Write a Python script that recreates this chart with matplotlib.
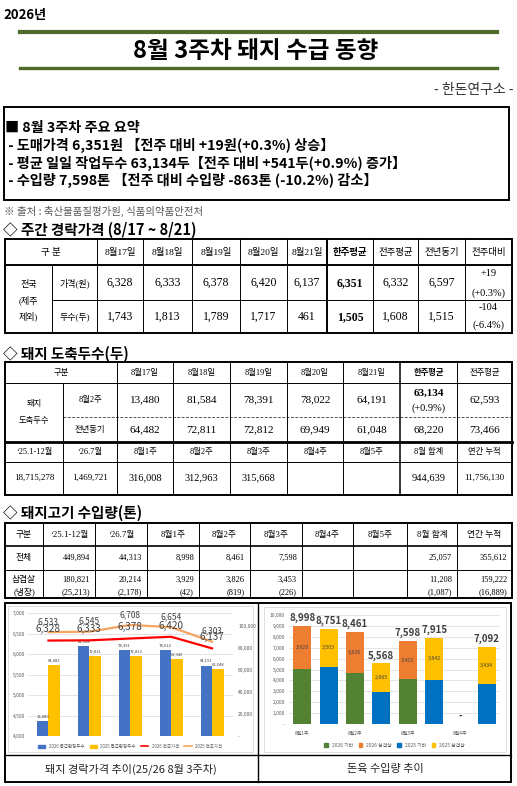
import matplotlib.pyplot as plt
from matplotlib.patches import Rectangle, Patch
from matplotlib.lines import Line2D

plt.rcParams['font.family'] = ['Noto Sans CJK KR', 'DejaVu Sans']
SERIF = ['Liberation Serif', 'Noto Sans CJK KR']
SANS = ['Noto Sans CJK KR', 'DejaVu Sans']

W, H = 517, 786

# ---- header / summary text
year_label = '2026년'
title = '8월 3주차 돼지 수급 동향'
org = '- 한돈연구소 -'
summary = ['■ 8월 3주차 주요 요약',
           ' - 도매가격 6,351원 【전주 대비 +19원(+0.3%) 상승】',
           ' - 평균 일일 작업두수 63,134두【전주 대비 +541두(+0.9%) 증가】',
           ' - 수입량 7,598톤 【전주 대비 수입량 -863톤 (-10.2%) 감소】']
source = '※ 출처 : 축산물품질평가원, 식품의약품안전처'

# ---- table 1: weekly auction price
t1_title = '◇ 주간 경락가격 (8/17 ~ 8/21)'
t1_cols = ['8월17일', '8월18일', '8월19일', '8월20일', '8월21일',
           '한주평균', '전주평균', '전년동기', '전주대비']
t1_price = ['6,328', '6,333', '6,378', '6,420', '6,137', '6,351', '6,332', '6,597']
t1_price_chg = ['+19', '(+0.3%)']
t1_head = ['1,743', '1,813', '1,789', '1,717', '461', '1,505', '1,608', '1,515']
t1_head_chg = ['-104', '(-6.4%)']

# ---- table 2: slaughter heads
t2_title = '◇ 돼지 도축두수(두)'
t2_cols = ['8월17일', '8월18일', '8월19일', '8월20일', '8월21일', '한주평균', '전주평균']
t2_this = ['13,480', '81,584', '78,391', '78,022', '64,191', '63,134', '62,593']
t2_this_chg = '(+0.9%)'
t2_ly = ['64,482', '72,811', '72,812', '69,949', '61,048', '68,220', '73,466']
t2_sum_cols = ['‘25.1-12월', '‘26.7월', '8월1주', '8월2주', '8월3주', '8월4주', '8월5주',
               '8월 합계', '연간 누적']
t2_sum = ['18,715,278', '1,469,721', '316,008', '312,963', '315,668', '', '',
          '944,639', '11,756,130']

# ---- table 3: pork imports
t3_title = '◇ 돼지고기 수입량(톤)'
t3_total = ['449,894', '44,313', '8,998', '8,461', '7,598', '', '', '25,057', '355,612']
t3_belly = ['180,821', '20,214', '3,929', '3,826', '3,453', '', '', '11,208', '159,222']
t3_chilled = ['(25,213)', '(2,178)', '(42)', '(819)', '(226)', '', '', '(1,087)', '(16,889)']

# ---- chart 1: price vs heads
heads_2026 = [13480, 81584, 78391, 78022, 64191]
heads_2025 = [64482, 72811, 72812, 69949, 61048]
price_2026 = [6328, 6333, 6378, 6420, 6137]
price_2025 = [6533, 6545, 6708, 6654, 6303]

# ---- chart 2: imports by week
imp_weeks = ['8월1주', '', '8월2주', '', '8월3주', '', '8월4주', '']
imp_total = [8998, 8751, 8461, 5568, 7598, 7915, 0, 7092]
imp_belly = [3929, 3503, 3826, 2665, 3453, 3842, 0, 3434]
imp_other = [5069, 5248, 4635, 2903, 4145, 4073, 0, 3658]

fig = plt.figure(figsize=(W / 100, H / 100), dpi=100)
ax = fig.add_axes([0, 0, 1, 1])
ax.set_xlim(0, W)
ax.set_ylim(H, 0)
ax.axis('off')


def line(x0, y0, x1, y1, lw=0.7, color='black', ls='-'):
    ax.plot([x0, x1], [y0, y1], color=color, lw=lw, ls=ls, solid_capstyle='projecting')


def put(x, y, s, size, ha='center', bold=False, family=SERIF, color='black'):
    ax.text(x, y, s, fontsize=size, ha=ha, va='center', family=family,
            fontweight='bold' if bold else 'normal', color=color)


# header
put(3, 15, year_label, 9.5, ha='left', bold=True, family=SANS)
green = '#4F6B2C'
line(20, 32, 497, 32, lw=3, color=green)
line(20, 68, 497, 68, lw=2.4, color=green)
put(256, 51, title, 17, bold=True, family=SANS)
put(514, 90, org, 10, ha='right', family=SANS, color='#333333')

ax.add_patch(Rectangle((4, 107), 505, 93, fill=False, lw=1.4, ec='black'))
for i, s in enumerate(summary):
    put(5, 128 + i * 17.5, s, 10.2, ha='left', bold=True, family=SANS)
put(4, 211, source, 7.5, ha='left', family=SANS, color='#555555')

# table 1
put(3, 230, t1_title, 10.5, ha='left', bold=True, family=SANS)
t1_x = [5, 52, 97, 143, 192, 240, 287, 327, 373, 418, 465, 512]
line(5, 239, 512, 239, lw=1.4)
line(5, 265, 512, 265, lw=1.4)
line(52, 300, 512, 300, lw=0.7)
line(5, 333, 512, 333, lw=1.4)
for x in t1_x:
    y0 = 265 if x == 52 else 239
    line(x, y0, x, 333, lw=1.4 if x in (5, 327, 512) else 0.7)
put(51, 252, '구 분', 6.8)
for i, c in enumerate(t1_cols):
    xc = (t1_x[i + 2] + t1_x[i + 3]) / 2
    put(xc, 252, c, 6.8, bold=(c == '한주평균'))
put(28.5, 285, '전국', 6.5)
put(28.5, 300, '(제주', 6.5)
put(28.5, 316, '제외)', 6.5)
put(74.5, 283, '가격(원)', 6.5)
put(74.5, 317, '두수(두)', 6.5)
for i, (p, h) in enumerate(zip(t1_price, t1_head)):
    xc = (t1_x[i + 2] + t1_x[i + 3]) / 2
    put(xc, 283, p, 8.5, bold=(i == 5))
    put(xc, 317, h, 8.5, bold=(i == 5))
xc = (t1_x[10] + t1_x[11]) / 2
put(xc, 273, t1_price_chg[0], 7.5)
put(xc, 293, t1_price_chg[1], 7.5)
put(xc, 307, t1_head_chg[0], 7.5)
put(xc, 325, t1_head_chg[1], 7.5)

# table 2
put(3, 354, t2_title, 10.5, ha='left', bold=True, family=SANS)
t2_x = [5, 63, 117, 173, 230, 287, 343, 400, 457, 512]
line(5, 362, 512, 362, lw=1.4)
line(5, 383, 512, 383, lw=0.7)
line(63, 417, 512, 417, lw=0.7, ls=(0, (3, 1.5)), color='#555555')
line(5, 442, 512, 442, lw=2.0)
line(5, 462, 512, 462, lw=0.7)
line(5, 495, 512, 495, lw=1.4)
for x in t2_x:
    y0 = 383 if x == 63 else 362
    line(x, y0, x, 495, lw=1.4 if x in (5, 512) else (1.1 if x == 400 else 0.7))
put(61, 373, '구분', 6)
for i, c in enumerate(t2_cols):
    xc = (t2_x[i + 2] + t2_x[i + 3]) / 2
    put(xc, 373, c, 6, bold=(c == '한주평균'))
put(34, 404, '돼지', 6)
put(34, 421, '도축두수', 6)
put(90, 400, '8월2주', 6)
put(90, 430, '전년동기', 6)
for i, (a, b) in enumerate(zip(t2_this, t2_ly)):
    xc = (t2_x[i + 2] + t2_x[i + 3]) / 2
    if i == 5:
        put(xc, 393, a, 8, bold=True)
        put(xc, 408, t2_this_chg, 7.5)
    else:
        put(xc, 400, a, 8)
    put(xc, 430, b, 8)
for i, (c, v) in enumerate(zip(t2_sum_cols, t2_sum)):
    xc = (t2_x[i] + t2_x[i + 1]) / 2
    put(xc, 452, c, 6)
    put(xc, 478, v, 6.5 if i < 2 or i == 8 else 7.5)

# table 3
put(3, 513, t3_title, 10.5, ha='left', bold=True, family=SANS)
t3_x = [5, 43, 95, 147, 199, 250, 302, 353, 407, 457, 512]
line(5, 523, 512, 523, lw=1.4)
line(5, 546, 512, 546, lw=1.2)
line(5, 570, 512, 570, lw=0.7)
line(5, 598, 512, 598, lw=1.4)
for x in t3_x:
    line(x, 523, x, 598, lw=1.4 if x in (5, 512) else 0.7)
put(24, 534.5, '구분', 6.3)
for i, c in enumerate(t2_sum_cols):
    xc = (t3_x[i + 1] + t3_x[i + 2]) / 2
    put(xc, 534.5, c, 6.3)
put(24, 558, '전체', 6.3)
put(24, 580, '삼겹살', 6.3)
put(24, 592, '(냉장)', 6.3)
for i, (a, b, c) in enumerate(zip(t3_total, t3_belly, t3_chilled)):
    xr = t3_x[i + 2] - 5
    put(xr, 558, a, 6, ha='right')
    put(xr, 580, b, 6, ha='right')
    put(xr, 592, c, 6, ha='right')

# chart frame
ax.add_patch(Rectangle((5, 603), 506, 179, fill=False, lw=1.4, ec='black'))
line(258, 603, 258, 782, lw=1.0)
line(5, 755, 511, 755, lw=1.0)
ax.add_patch(Rectangle((8, 606), 245, 146, fill=False, lw=0.6, ec='#D9D9D9'))
ax.add_patch(Rectangle((264, 607), 242, 145, fill=False, lw=0.6, ec='#D9D9D9'))
put(131, 769, '돼지 경락가격 추이(25/26 8월 3주차)', 8, family=SANS, color='#222222')
put(385, 769, '돈육 수입량 추이', 8, family=SANS, color='#222222')

tick_kw = dict(labelsize=3.5, labelcolor='#595959', length=0)

# chart 1
rect1 = [28 / W, 1 - 736 / H, 204.5 / W, 123 / H]
axp = fig.add_axes(rect1)
axp.set_xlim(-0.5, 4.5)
axp.set_ylim(4000, 7000)
axp.set_yticks(range(4000, 7001, 500))
axp.set_yticklabels([f'{v:,}' for v in range(4000, 7001, 500)])
axp.tick_params(axis='y', pad=2, **tick_kw)
axp.set_xticks([])
axp.grid(axis='y', color='#D9D9D9', lw=0.5)
for s in axp.spines.values():
    s.set_visible(False)

axb = axp.twinx()
axb.set_ylim(0, 112000)
axb.set_yticks(range(0, 100001, 20000))
axb.set_yticklabels(['-'] + [f'{v:,}' for v in range(20000, 100001, 20000)])
axb.tick_params(axis='y', pad=4, **tick_kw)
for s in axb.spines.values():
    s.set_visible(False)
xs = list(range(5))
b1 = axb.bar([x - 0.14 for x in xs], heads_2026, 0.28, color='#4472C4')
b2 = axb.bar([x + 0.14 for x in xs], heads_2025, 0.28, color='#FFC000')
axb.bar_label(b1, labels=[f'{v:,}' for v in heads_2026], fontsize=3, color='#404040', padding=2)
axb.bar_label(b2, labels=[f'{v:,}' for v in heads_2025], fontsize=3, color='#404040', padding=2)

axl = axp.twinx()
axl.set_ylim(4000, 7000)
axl.set_yticks([])
for s in axl.spines.values():
    s.set_visible(False)
axl.plot(xs, price_2025, color='#F4A460', lw=1.6)
axl.plot(xs, price_2026, color='#FF0000', lw=1.6)
for x, v in zip(xs, price_2025):
    axl.annotate(f'{v:,}', (x, v), xytext=(0, 7.5), textcoords='offset points',
                 ha='center', va='center', fontsize=6, color='#404040')
for x, v in zip(xs, price_2026):
    axl.annotate(f'{v:,}', (x, v), xytext=(0, 8), textcoords='offset points',
                 ha='center', va='center', fontsize=7.2, color='#404040')
handles1 = [Patch(color='#4472C4', label='2026 등급판정두수'),
            Patch(color='#FFC000', label='2025 등급판정두수'),
            Line2D([], [], color='#FF0000', lw=1.2, label='2026 전국가격'),
            Line2D([], [], color='#F4A460', lw=1.2, label='2025 전국가격')]
axl.legend(handles=handles1, ncol=4, loc='upper center', bbox_to_anchor=(0.5, -0.03),
           fontsize=3.2, frameon=False, handlelength=1.6, handleheight=0.6,
           columnspacing=1.2, labelcolor='#595959')

# chart 2
rect2 = [289 / W, 1 - 724 / H, 211 / W, 109 / H]
axr = fig.add_axes(rect2)
axr.set_xlim(-0.5, 7.5)
axr.set_ylim(0, 10000)
axr.set_yticks(range(0, 10001, 1000))
axr.set_yticklabels(['-'] + [f'{v:,}' for v in range(1000, 10001, 1000)])
axr.tick_params(axis='y', pad=3, **tick_kw)
axr.set_xticks(range(8))
axr.set_xticklabels(imp_weeks)
axr.tick_params(axis='x', labelsize=3.5, labelcolor='#595959', length=0, pad=5)
axr.grid(axis='y', color='#D9D9D9', lw=0.5)
axr.set_axisbelow(True)
for s in axr.spines.values():
    s.set_visible(False)
xr = list(range(8))
other_cols = ['#548235' if i % 2 == 0 else '#0070C0' for i in xr]
belly_cols = ['#ED7D31' if i % 2 == 0 else '#FFC000' for i in xr]
axr.bar(xr, imp_other, 0.68, color=other_cols)
bb = axr.bar(xr, imp_belly, 0.68, bottom=imp_other, color=belly_cols)
axr.bar_label(bb, labels=[f'{v:,}' if v else '' for v in imp_belly], label_type='center',
              fontsize=3.8, color='#404040')
tops = axr.bar(xr, [0] * 8, 0.68, bottom=imp_total)
axr.bar_label(tops, labels=[f'{v:,}' if v else '-' for v in imp_total], padding=2,
              fontsize=7, fontweight='bold', color='#404040')
handles2 = [Patch(color='#548235', label='2026 기타'),
            Patch(color='#ED7D31', label='2026 삼겹살'),
            Patch(color='#0070C0', label='2025 기타'),
            Patch(color='#FFC000', label='2025 삼겹살')]
axr.legend(handles=handles2, ncol=4, loc='upper center', bbox_to_anchor=(0.5, -0.13),
           fontsize=3.5, frameon=False, handlelength=0.7, handleheight=0.7,
           columnspacing=1.2, labelcolor='#595959')

fig.savefig('out.png', dpi=100)
